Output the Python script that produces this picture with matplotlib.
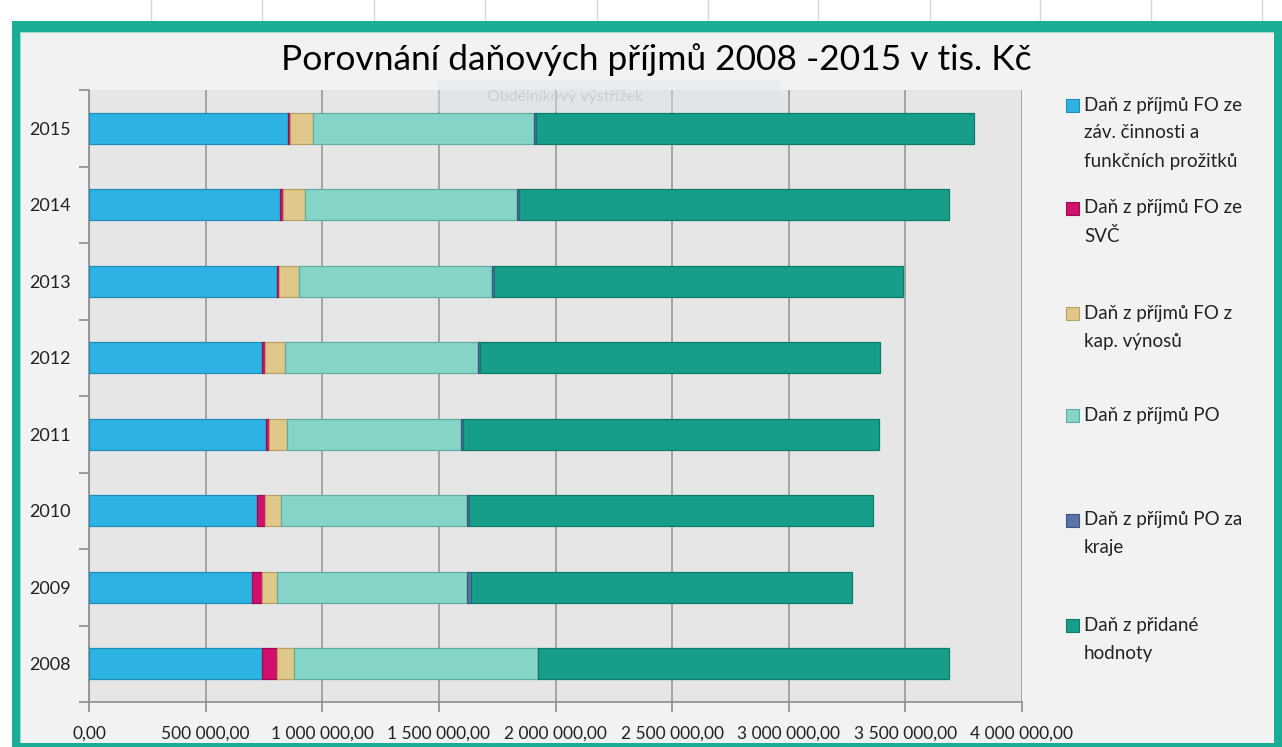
import matplotlib
matplotlib.use("Agg")
import matplotlib.pyplot as plt
from matplotlib.patches import Rectangle
from matplotlib.ticker import FuncFormatter, MultipleLocator

plt.rcParams['font.family'] = ['Lato', 'DejaVu Sans']

# data (tis. Kč), years from bottom to top
years = ['2008', '2009', '2010', '2011', '2012', '2013', '2014', '2015']
fo_zav = [741000, 700000, 720000, 760000, 741000, 807000, 820000, 853000]
fo_svc = [66000, 40000, 33000, 13000, 13000, 7000, 13000, 9000]
fo_kap = [74000, 67000, 69000, 75000, 88000, 87000, 94000, 97000]
po = [1042000, 813000, 800000, 747000, 826000, 825000, 907000, 948000]
po_kraje = [4000, 16000, 9000, 10000, 10000, 10000, 10000, 10000]
dph = [1760000, 1636000, 1730000, 1783000, 1715000, 1755000, 1841000, 1879000]

series = [fo_zav, fo_svc, fo_kap, po, po_kraje, dph]
names = [
    ['Daň z příjmů FO ze', 'záv. činnosti a', 'funkčních prožitků'],
    ['Daň z příjmů FO ze', 'SVČ'],
    ['Daň z příjmů FO z', 'kap. výnosů'],
    ['Daň z příjmů PO'],
    ['Daň z příjmů PO za', 'kraje'],
    ['Daň z přidané', 'hodnoty'],
]
colors = ['#2db3e3', '#d0106a', '#e0c88a', '#84d5c8', '#5b73a8', '#169e8a']
edges = ['#1f8db5', '#9c0c50', '#b9a066', '#62ad9f', '#3f5482', '#0e7a69']

W, H = 1282, 747
fig = plt.figure(figsize=(W / 100, H / 100), dpi=100)
fig.patch.set_facecolor('white')


def box(x0, y0, x1, y1, color, z=-1, **kw):
    # pixel coords (top-left origin) -> figure fraction
    fig.add_artist(Rectangle((x0 / W, 1 - y1 / H), (x1 - x0) / W, (y1 - y0) / H,
                             transform=fig.transFigure, facecolor=color,
                             edgecolor='none', zorder=z, **kw))


# screenshot frame: spreadsheet strip + teal border
for gx in [151, 262, 374, 485, 597, 708, 818, 930, 1040, 1151, 1262]:
    fig.add_artist(plt.Line2D([gx / W, gx / W], [1, 1 - 21 / H], transform=fig.transFigure,
                              color='#d6d6d6', lw=1, zorder=-1))
box(12, 21, W, H, '#1bae96')
box(20, 32, 1274, 743, '#9fdccf')
box(21, 33, 1274, 743, '#f2f2f2')

ax = fig.add_axes([89 / W, 1 - 702 / H, (1022 - 89) / W, (702 - 90) / H])
ax.set_facecolor('#e6e6e6')
ax.set_zorder(2)

left = [0] * len(years)
for vals, c, ec in zip(series, colors, edges):
    ax.barh(range(len(years)), vals, left=left, height=0.4, color=c,
            edgecolor=ec, linewidth=0.9, zorder=3)
    left = [a + b for a, b in zip(left, vals)]

ax.set_xlim(0, 4000000)
ax.set_ylim(-0.5, len(years) - 0.5)
ax.xaxis.set_major_locator(MultipleLocator(500000))
ax.xaxis.set_major_formatter(FuncFormatter(
    lambda v, p: f'{v:,.2f}'.replace(',', ' ').replace('.', ',')))
ax.set_yticks(range(len(years)))
ax.set_yticklabels(years)
ax.set_yticks([i - 0.5 for i in range(len(years) + 1)], minor=True)
ax.tick_params(axis='y', which='major', length=0, pad=13, labelsize=13, labelcolor='#222222')
ax.tick_params(axis='y', which='minor', length=7, color='#8c8c8c', width=1.2)
ax.tick_params(axis='x', length=7, color='#8c8c8c', width=1.2, pad=10,
               labelsize=12.5, labelcolor='#222222')
ax.grid(axis='x', color='#a0a0a0', lw=1.3, zorder=1)
ax.set_axisbelow(True)
for s in ['top', 'right']:
    ax.spines[s].set_visible(False)
for s in ['left', 'bottom']:
    ax.spines[s].set_color('#8c8c8c')
    ax.spines[s].set_linewidth(1.2)

fig.text(656 / W, 1 - 60 / H, 'Porovnání daňových příjmů 2008 -2015 v tis. Kč',
         ha='center', va='center', fontsize=25.5, color='black')

# snipping tool tooltip ghost
box(437, 80, 780, 112, '#dfe5ec', z=3, alpha=0.45)
fig.text(487 / W, 1 - 97 / H, 'Obdélníkový výstřižek', ha='left', va='center',
         fontsize=11.5, color='#c9ced5', zorder=4)

# legend
first_y = [105, 208, 313, 415, 520, 625]
for lines, c, ec, y0 in zip(names, colors, edges, first_y):
    box(1066, y0 - 6.5, 1079, y0 + 6.5, c, z=1)
    fig.add_artist(Rectangle((1066 / W, 1 - (y0 + 6.5) / H), 13 / W, 13 / H,
                             transform=fig.transFigure, facecolor='none',
                             edgecolor=ec, lw=0.8, zorder=1))
    for i, t in enumerate(lines):
        fig.text(1084 / W, 1 - (y0 + 28 * i) / H, t, ha='left', va='center',
                 fontsize=13.5, color='#222222')

fig.savefig('out.png', dpi=100, facecolor=fig.get_facecolor())
